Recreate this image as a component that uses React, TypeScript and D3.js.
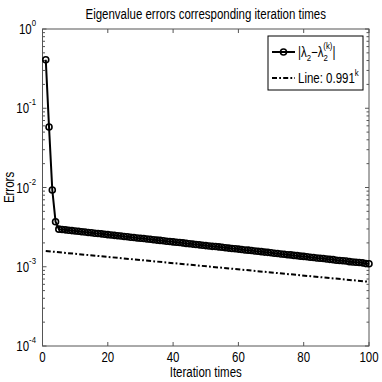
import React from 'react';
import * as d3 from 'd3';

const title = 'Eigenvalue errors corresponding iteration times';
const xLabel = 'Iteration times';
const yLabel = 'Errors';
const xTicks = [0, 20, 40, 60, 80, 100];
const yMajorExponents = [0, -1, -2, -3, -4];

// |lambda_2 - lambda_2^(k)| for k = 1..100
const errors = [
  0.41, 0.058, 0.0093, 0.0037,
  2.98e-3, 2.95e-3, 2.92e-3, 2.89e-3, 2.86e-3, 2.83e-3, 2.80e-3, 2.77e-3, 2.74e-3, 2.71e-3,
  2.68e-3, 2.65e-3, 2.63e-3, 2.60e-3, 2.57e-3, 2.54e-3, 2.52e-3, 2.49e-3, 2.46e-3, 2.44e-3,
  2.41e-3, 2.39e-3, 2.36e-3, 2.34e-3, 2.31e-3, 2.29e-3, 2.27e-3, 2.24e-3, 2.22e-3, 2.19e-3,
  2.17e-3, 2.15e-3, 2.13e-3, 2.10e-3, 2.08e-3, 2.06e-3, 2.04e-3, 2.02e-3, 2.00e-3, 1.97e-3,
  1.95e-3, 1.93e-3, 1.91e-3, 1.89e-3, 1.87e-3, 1.85e-3, 1.83e-3, 1.81e-3, 1.80e-3, 1.78e-3,
  1.76e-3, 1.74e-3, 1.72e-3, 1.70e-3, 1.69e-3, 1.67e-3, 1.65e-3, 1.63e-3, 1.62e-3, 1.60e-3,
  1.58e-3, 1.57e-3, 1.55e-3, 1.53e-3, 1.52e-3, 1.50e-3, 1.48e-3, 1.47e-3, 1.45e-3, 1.44e-3,
  1.42e-3, 1.41e-3, 1.39e-3, 1.38e-3, 1.36e-3, 1.35e-3, 1.34e-3, 1.32e-3, 1.31e-3, 1.29e-3,
  1.28e-3, 1.27e-3, 1.25e-3, 1.24e-3, 1.23e-3, 1.21e-3, 1.20e-3, 1.19e-3, 1.18e-3, 1.16e-3,
  1.15e-3, 1.14e-3, 1.13e-3, 1.12e-3, 1.10e-3, 1.09e-3,
];

// reference line 0.991^k (scaled), endpoints at k = 1 and k = 100
const refK = [1, 100];
const refValues = [1.58e-3, 6.46e-4];

const font = '"Liberation Sans", Arial, Helvetica, sans-serif';
const fs = 14;
const sup = 9.5;
const squeeze = 0.82; // narrow helvetica look

// text squeezed horizontally around its anchor point
function T({ x, y, anchor = 'start', rotate = 0, size = fs, children }: any) {
  return (
    <text transform={`translate(${x},${y}) rotate(${rotate}) scale(${squeeze},1)`}
      textAnchor={anchor} fontSize={size} fill="#000">
      {children}
    </text>
  );
}

export default function App() {
  const width = 382;
  const height = 382;
  const margin = { top: 29, right: 13, bottom: 36, left: 42.5 };

  const x = d3.scaleLinear().domain([0, 100]).range([margin.left, width - margin.right]);
  const y = d3.scaleLog().domain([1e-4, 1]).range([height - margin.bottom, margin.top]);

  const [x0, x1] = x.range();
  const [y0, y1] = y.range();

  const pts = errors.map((v, i) => ({ k: i + 1, v }));
  const line = d3.line<{ k: number; v: number }>().x(d => x(d.k)).y(d => y(d.v));
  const refPts = refK.map((k, i) => ({ k, v: refValues[i] }));

  const minorTicks = y.ticks().filter(t => Math.abs(Math.log10(t) - Math.round(Math.log10(t))) > 1e-6);
  const axisColor = '#555';
  const dash = '5,2.2,1.8,2.2';

  const lg = { x: 268, y: 36, w: 95, h: 54 };

  return (
    <svg width={width} height={height} style={{ position: 'absolute', left: 0, top: 0, background: '#fff' }}
      fontFamily={font}>
      <rect x={0} y={0} width={width} height={height} fill="#fff" />

      {/* title */}
      <T x={(x0 + x1) / 2} y={19} anchor="middle">{title}</T>

      {/* box */}
      <rect x={x0} y={y1} width={x1 - x0} height={y0 - y1} fill="none" stroke={axisColor} strokeWidth={1} />

      {/* x ticks */}
      {xTicks.map(t => (
        <g key={'xt' + t}>
          <line x1={x(t)} x2={x(t)} y1={y0} y2={y0 - 4} stroke={axisColor} />
          <line x1={x(t)} x2={x(t)} y1={y1} y2={y1 + 4} stroke={axisColor} />
          <T x={x(t)} y={y0 + 16} anchor="middle">{t}</T>
        </g>
      ))}

      {/* y major ticks */}
      {yMajorExponents.map(e => {
        const yy = y(Math.pow(10, e));
        return (
          <g key={'ym' + e}>
            <line x1={x0} x2={x0 + 4} y1={yy} y2={yy} stroke={axisColor} />
            <line x1={x1} x2={x1 - 4} y1={yy} y2={yy} stroke={axisColor} />
            <T x={x0 - 6.5} y={yy + 5} anchor="end">
              10<tspan dy={-8} fontSize={sup}>{e === 0 ? '0' : '-' + Math.abs(e)}</tspan>
            </T>
          </g>
        );
      })}

      {/* y minor ticks */}
      {minorTicks.map((t, i) => (
        <g key={'yn' + i}>
          <line x1={x0} x2={x0 + 2.5} y1={y(t)} y2={y(t)} stroke={axisColor} />
          <line x1={x1} x2={x1 - 2.5} y1={y(t)} y2={y(t)} stroke={axisColor} />
        </g>
      ))}

      {/* axis labels */}
      <T x={(x0 + x1) / 2} y={377} anchor="middle">{xLabel}</T>
      <T x={14} y={(y0 + y1) / 2} anchor="middle" rotate={-90}>{yLabel}</T>

      {/* reference line */}
      <path d={line(refPts) || ''} fill="none" stroke="#000" strokeWidth={2} strokeDasharray={dash} />

      {/* error curve */}
      <path d={line(pts) || ''} fill="none" stroke="#000" strokeWidth={2} />
      {pts.map(d => (
        <circle key={'c' + d.k} cx={x(d.k)} cy={y(d.v)} r={3} fill="none" stroke="#000" strokeWidth={1.6} />
      ))}

      {/* legend */}
      <rect x={lg.x} y={lg.y} width={lg.w} height={lg.h} fill="#fff" stroke="#000" strokeWidth={1} />
      <line x1={lg.x + 4} x2={lg.x + 27} y1={lg.y + 16} y2={lg.y + 16} stroke="#000" strokeWidth={2} />
      <circle cx={lg.x + 15.5} cy={lg.y + 16} r={3} fill="none" stroke="#000" strokeWidth={1.6} />
      <T x={lg.x + 30} y={lg.y + 21}>
        |λ<tspan dy={4} fontSize={sup}>2</tspan>
        <tspan dy={-4}>−λ</tspan>
        <tspan dy={4} fontSize={sup}>2</tspan>
        <tspan dx={-5.5} dy={-12} fontSize={sup}>(k)</tspan>
        <tspan dy={8}>|</tspan>
      </T>
      <line x1={lg.x + 4} x2={lg.x + 27} y1={lg.y + 42} y2={lg.y + 42} stroke="#000" strokeWidth={2} strokeDasharray={dash} />
      <T x={lg.x + 30} y={lg.y + 47}>
        Line: 0.991<tspan dy={-7} fontSize={sup}>k</tspan>
      </T>
    </svg>
  );
}
